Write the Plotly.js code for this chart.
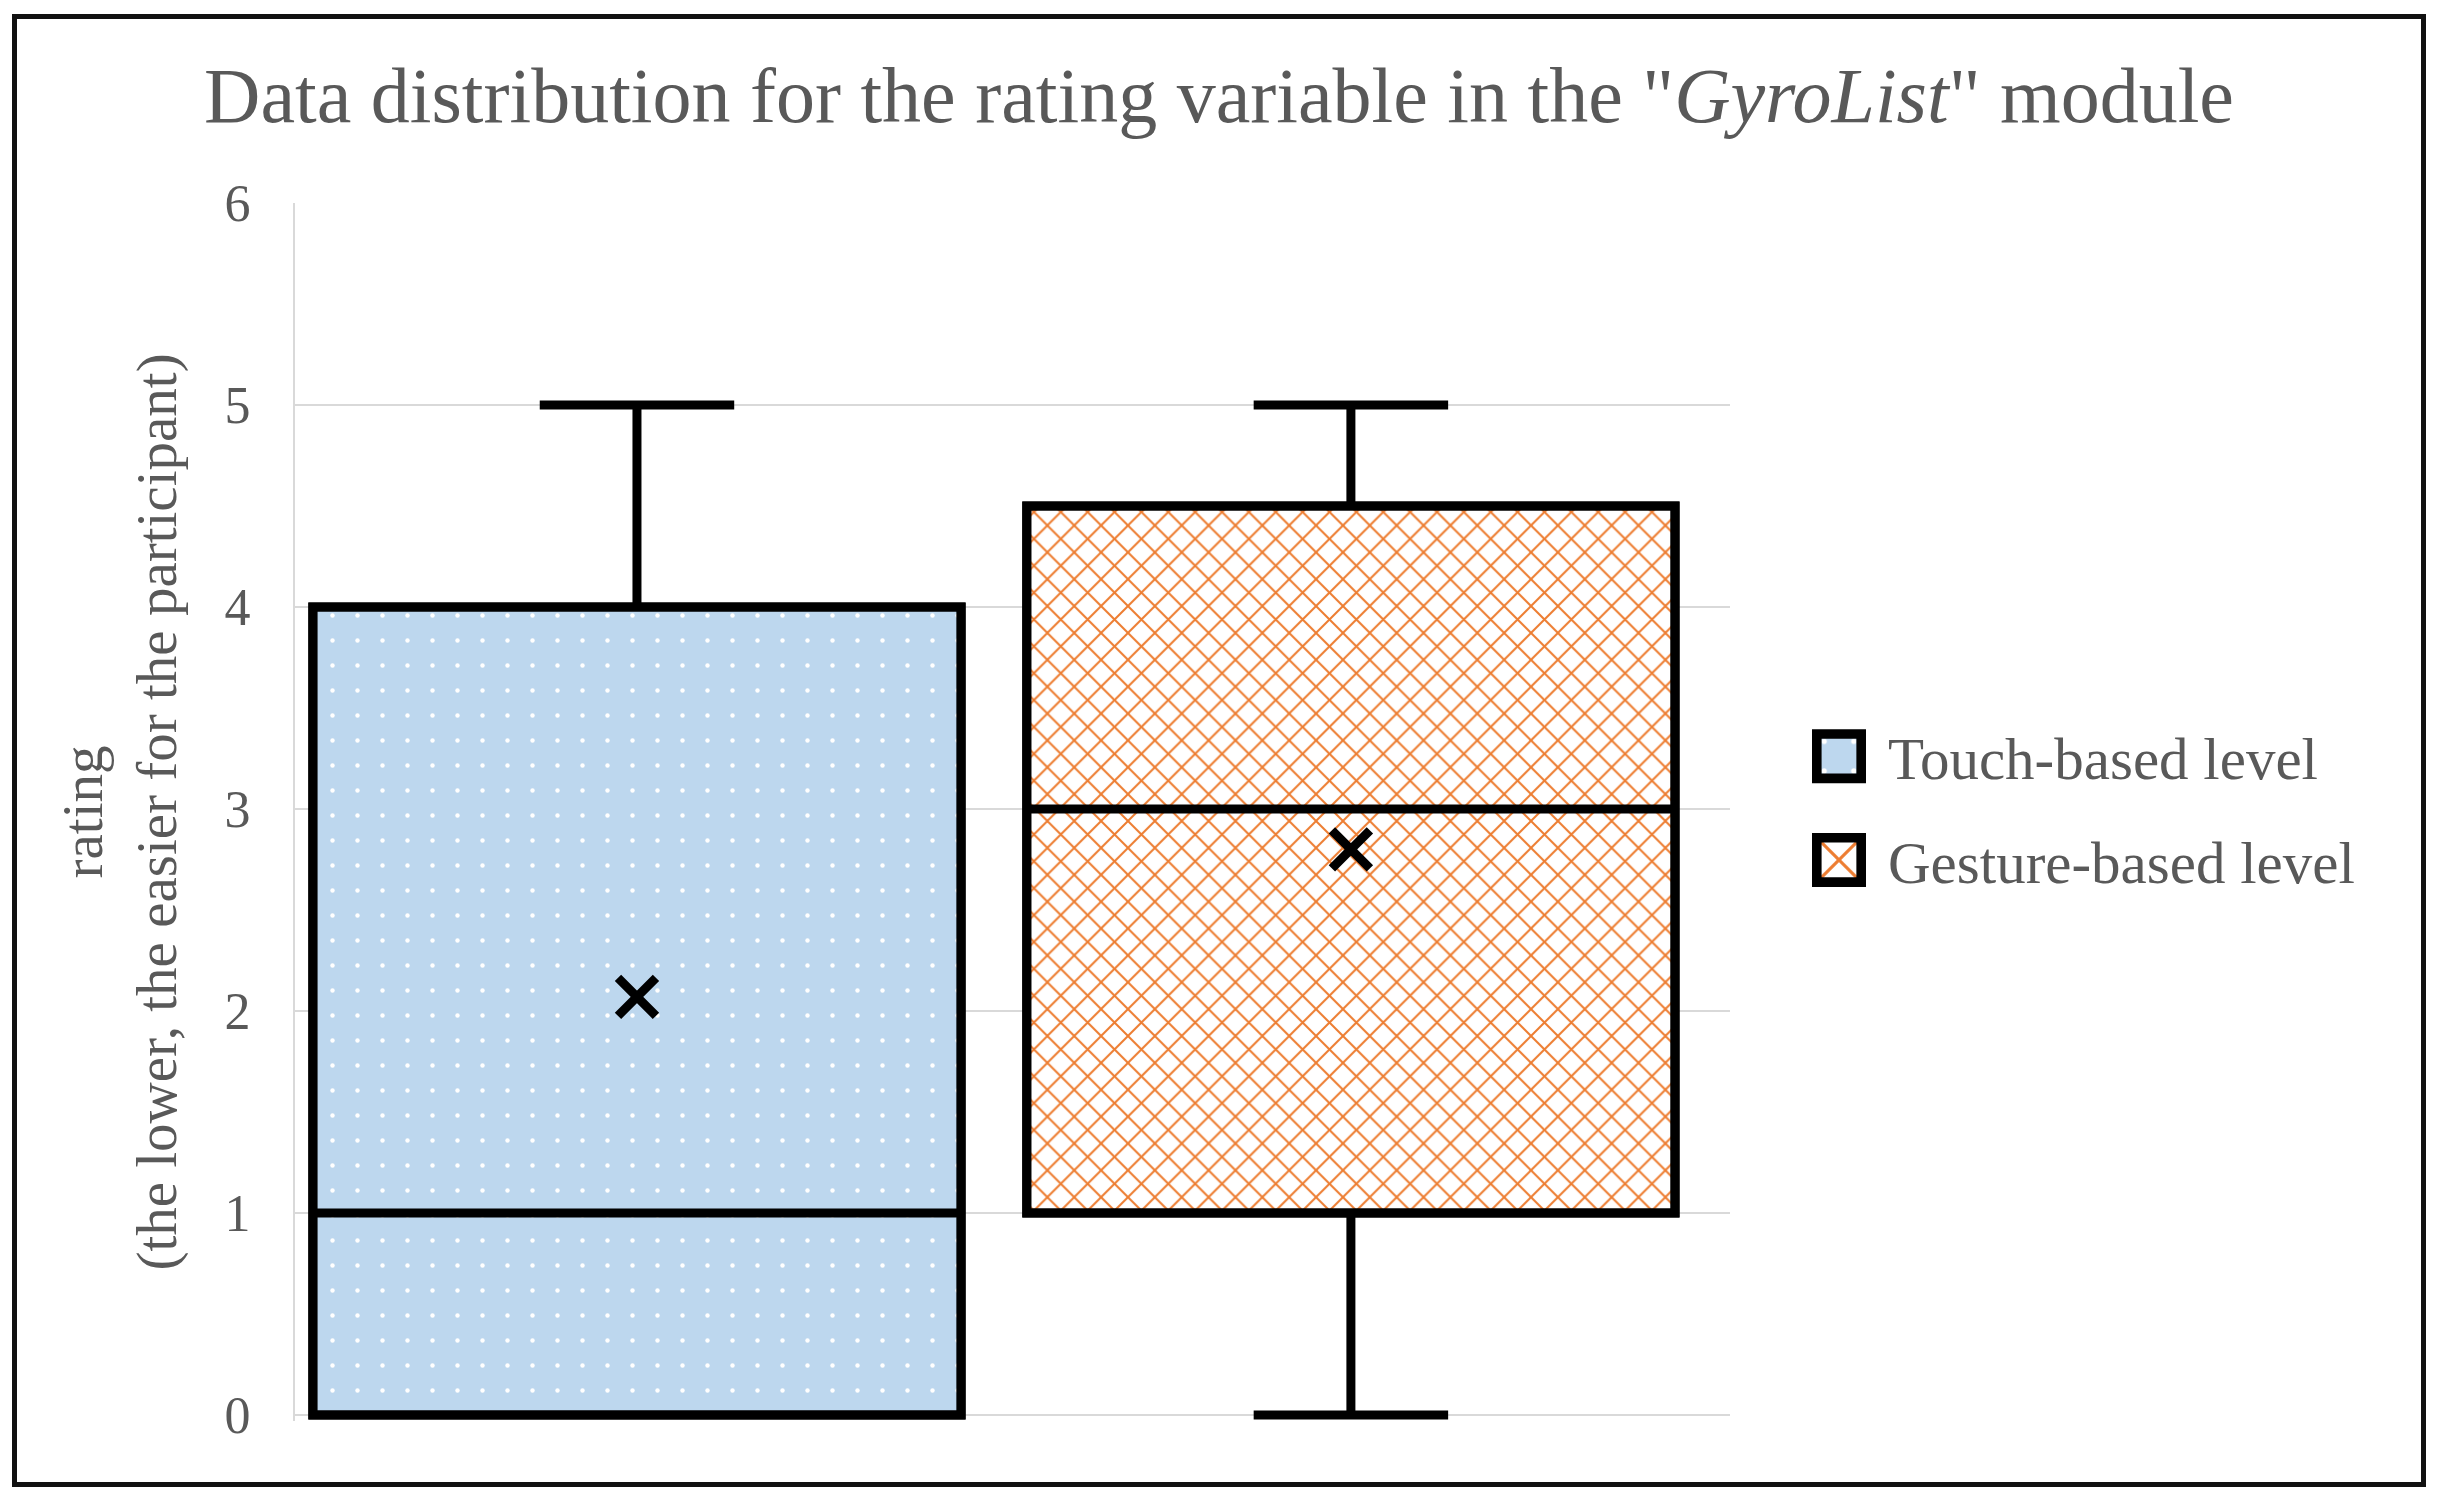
<!DOCTYPE html>
<html>
<head>
<meta charset="utf-8">
<script src="https://cdn.plot.ly/plotly-3.0.1.min.js"></script>
<style>
    body { margin: 0; background: white; }
    #wrap { position: relative; width: 2438px; height: 1504px; }
    #chart { width: 2438px; height: 1504px; }
    #frame {
        position: absolute; left: 12px; top: 14px; width: 2404px; height: 1463px;
        border: 5px solid #111; pointer-events: none;
    }
</style>
</head>
<body>
<div id="wrap">
    <div id="chart"></div>
    <div id="frame"></div>
</div>
<script>
// values
const seriesNames = ['Touch-based level', 'Gesture-based level']
const minVals = [0, 0]
const q1Vals = [0, 1]
const medianVals = [1, 3]
const q3Vals = [4, 4.5]
const maxVals = [5, 5]
const meanVals = [2.07, 2.8]
const yTicks = [0, 1, 2, 3, 4, 5, 6]

const font = 'Liberation Serif, Times New Roman, serif'
const grey = '#595959'
const boxWidth = 0.908
const patterns = [
    { shape: '.', fgcolor: 'white', bgcolor: '#bdd7ee', size: 25, solidity: 0.025, fillmode: 'replace' },
    { shape: 'x', fgcolor: '#ed7d31', bgcolor: 'white', size: 19, solidity: 0.2, fillmode: 'replace' },
]

const traces = []

// pattern filled box bodies (also used for the legend)
seriesNames.forEach(function (name, i) {
    traces.push({
        type: 'bar',
        name: name,
        legendgroup: name,
        x: [i],
        base: [q1Vals[i]],
        y: [q3Vals[i] - q1Vals[i]],
        width: [boxWidth],
        marker: { color: patterns[i].bgcolor, pattern: patterns[i], line: { color: 'black', width: 9 } },
        hoverinfo: 'skip',
    })
})

// whiskers, median and outline
seriesNames.forEach(function (name, i) {
    traces.push({
        type: 'box',
        name: name,
        showlegend: false,
        x: [i],
        q1: [q1Vals[i]],
        median: [medianVals[i]],
        q3: [q3Vals[i]],
        lowerfence: [minVals[i]],
        upperfence: [maxVals[i]],
        width: boxWidth,
        whiskerwidth: 0.3,
        fillcolor: 'rgba(0,0,0,0)',
        line: { color: 'black', width: 9 },
        hoverinfo: 'skip',
    })
})

// mean markers
traces.push({
    type: 'scatter',
    mode: 'markers',
    showlegend: false,
    x: seriesNames.map((_, i) => i),
    y: meanVals,
    marker: { symbol: 'x-thin', size: 38, color: 'black', line: { color: 'black', width: 9 } },
    hoverinfo: 'skip',
})

const layout = {
    width: 2438,
    height: 1504,
    // a few px below 0 so the strokes at 0 are not clipped
    margin: { l: 295, r: 708, t: 203, b: 83 },
    paper_bgcolor: 'white',
    plot_bgcolor: 'white',
    font: { family: font, color: grey },
    barmode: 'overlay',
    boxmode: 'overlay',
    title: {
        text: 'Data distribution for the rating variable in the "<i>GyroList</i>" module',
        font: { family: font, size: 78, color: grey },
        x: 0.5,
        xref: 'container',
        y: 0.937,
        yanchor: 'middle',
    },
    xaxis: {
        visible: false,
        range: [-0.479, 1.531],
        fixedrange: true,
    },
    yaxis: {
        range: [-0.03, 6],
        tickvals: yTicks,
        ticktext: yTicks.map(String),
        tickfont: { family: font, size: 52, color: grey },
        ticklabelstandoff: 32,
        showgrid: true,
        gridcolor: '#d9d9d9',
        gridwidth: 2,
        zeroline: false,
        showline: true,
        linecolor: '#d9d9d9',
        linewidth: 2,
        ticks: '',
        automargin: false,
        title: {
            text: 'rating<br>(the lower, the easier for the participant)',
            font: { family: font, size: 57, color: grey },
            standoff: 30,
        },
        fixedrange: true,
    },
    legend: {
        x: 1.0418,
        xanchor: 'left',
        y: 0.503,
        yanchor: 'middle',
        font: { family: font, size: 59, color: grey },
        itemwidth: 88,
        tracegroupgap: 24,
        bgcolor: 'rgba(0,0,0,0)',
    },
}

const config = { displayModeBar: false, staticPlot: true }

Plotly.newPlot('chart', traces, layout, config).then(function (gd) {
    // bigger legend swatches, like the original
    gd.querySelectorAll('.legend .legendpoints path').forEach(function (p) {
        const t = p.getAttribute('transform') || ''
        p.setAttribute('transform', t + ' scale(3.7)')
        p.style.strokeWidth = '2.6px'
    })
})
</script>
</body>
</html>
